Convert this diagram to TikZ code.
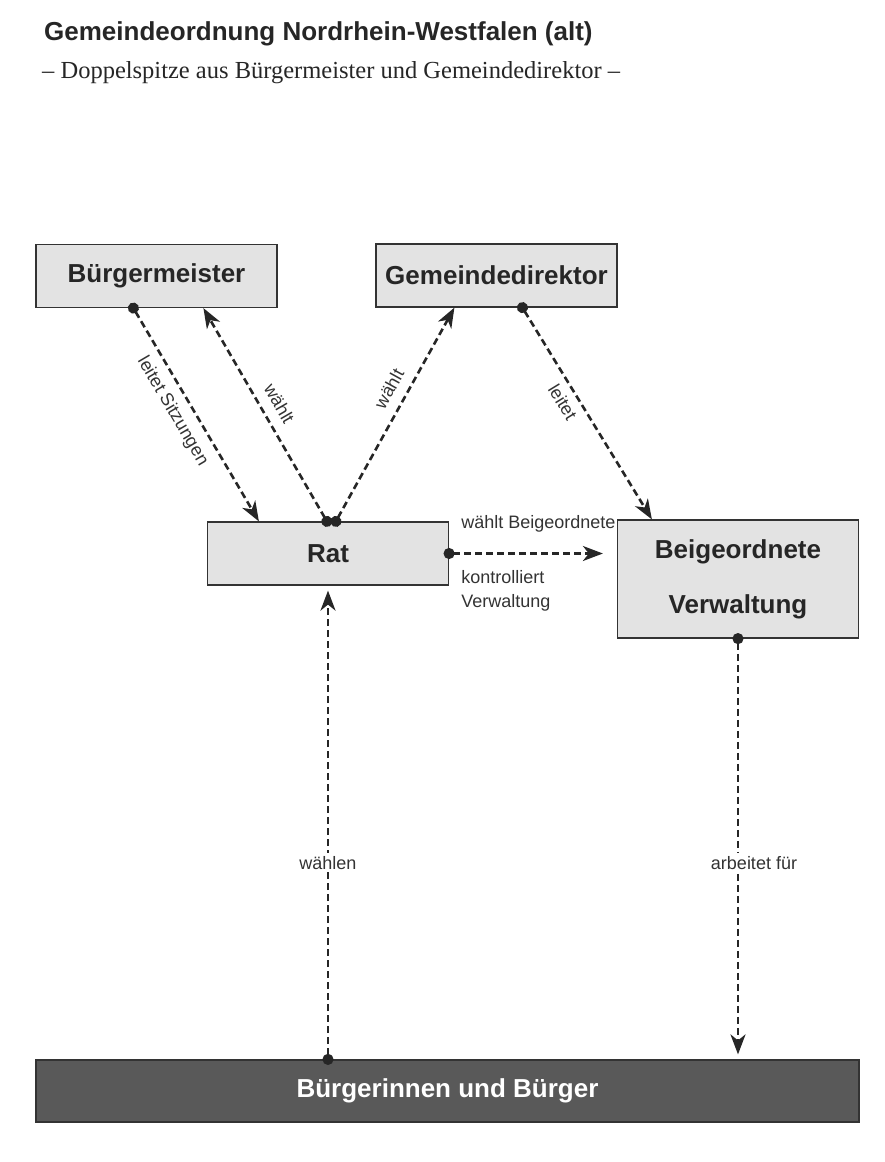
\documentclass[tikz,border=0pt]{standalone}
\usepackage{fontspec}
\setmainfont{Liberation Sans}
\newfontfamily\subfont{Liberation Serif}
\usepackage{tikz}
\usetikzlibrary{positioning,arrows.meta,calc}

\begin{document}
\begin{tikzpicture}[x=1pt, y=-1pt,
  box/.style={draw=black!80, line width=1.2pt, fill=black!11, text=black!85, minimum width=241pt, minimum height=63pt, font=\bfseries\fontsize{26}{31}\selectfont},
  bar/.style={box, fill=black!65, text=white, minimum width=823pt, minimum height=62pt},
  arrow/.style={draw=black!85, line width=2.6pt, dash pattern=on 7pt off 4pt, {Circle[length=11pt]}-{Stealth[length=20pt, width=15pt, inset=6pt]}, shorten <=-5.5pt},
  lbl/.style={font=\fontsize{18}{24}\selectfont, text=black!80, inner sep=3pt}]
\useasboundingbox (0,0) rectangle (885,1162);
\node[anchor=base west, inner sep=0pt, font=\bfseries\fontsize{26}{31}\selectfont, text=black!85] (title) at (44,40) {Gemeindeordnung Nordrhein-Westfalen (alt)};
\node[anchor=base west, inner sep=0pt, font=\subfont\fontsize{24.5}{29}\selectfont, text=black!85] (subtitle) at (42,78) {– Doppelspitze aus Bürgermeister und Gemeindedirektor –};
\node[box] (bm) at (156.5,276) {Bürgermeister};
\node[box] (gd) at (496.5,275.5) {Gemeindedirektor};
\node[box] (rat) at (328,553.5) {Rat};
\node[box, minimum height=118pt, align=center, font=\bfseries\fontsize{26}{55}\selectfont] (beig) at (738,579) {Beigeordnete\\Verwaltung};
\node[bar] (buerger) at (447.5,1091) {Bürgerinnen und Bürger};
\draw[arrow] ($(bm.south west)+(98,0)$) -- node[lbl, sloped, below=6pt, pos=0.44] {leitet Sitzungen} ($(rat.north west)+(52,0)$);
\draw[arrow] ($(rat.north west)+(120,0)$) -- node[lbl, sloped, above=7pt, pos=0.51] {wählt} ($(bm.south west)+(168,0)$);
\draw[arrow] ($(rat.north west)+(129,0)$) -- node[lbl, sloped, above=7pt, pos=0.58] {wählt} ($(gd.south west)+(79,0)$);
\draw[arrow] ($(gd.south west)+(147,0)$) -- node[lbl, sloped, below=4pt, pos=0.41] {leitet} ($(beig.north west)+(35,0)$);
\draw[arrow, shorten >=14pt] (rat.east) -- (rat.east -| beig.west)
  node[lbl, pos=0, anchor=base west, xshift=8pt, yshift=25pt] {wählt Beigeordnete}
  node[lbl, pos=0, anchor=north west, align=left, xshift=8pt, yshift=-13pt] {kontrolliert\\Verwaltung};
\draw[arrow, shorten >=5pt] (rat.south |- buerger.north) -- node[lbl, fill=white, pos=0.415] {wählen} (rat.south);
\draw[arrow, shorten >=5pt] (beig.south) -- node[lbl, fill=white, pos=0.533, xshift=16pt] {arbeitet für} (beig.south |- buerger.north);
\end{tikzpicture}
\end{document}
